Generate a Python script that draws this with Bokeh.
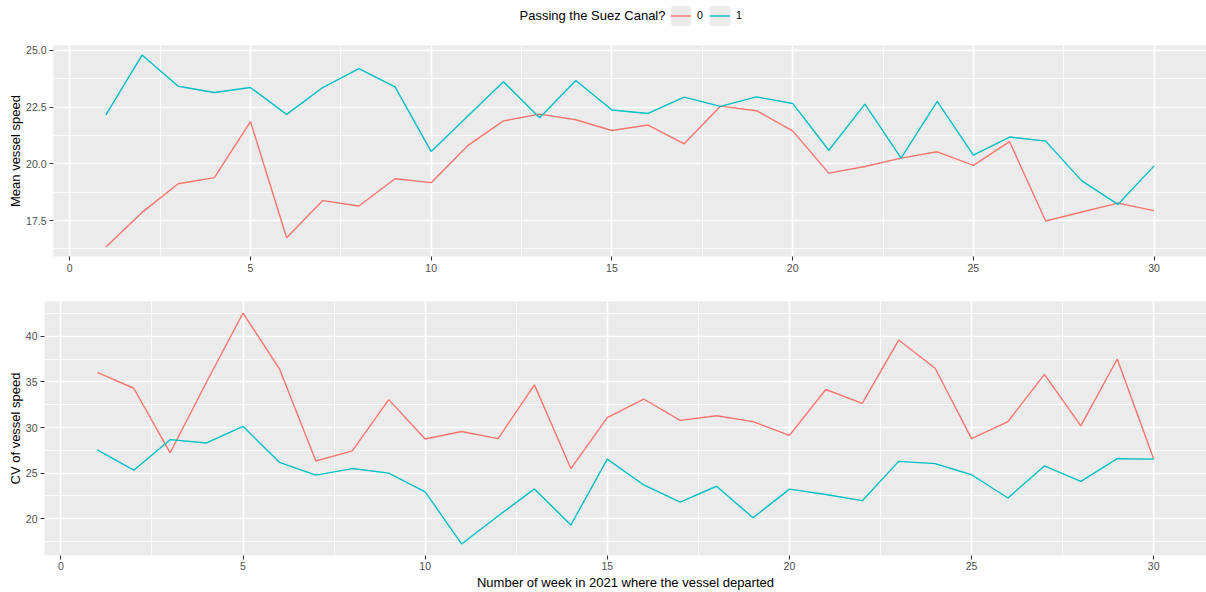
from bokeh.plotting import figure
from bokeh.models import (Range1d, SingleIntervalTicker, PrintfTickFormatter,
                          Legend, LegendItem, Label, ColumnDataSource)
from bokeh.layouts import column
from bokeh.embed import file_html
from bokeh.resources import INLINE

# ---------------- data ----------------
weeks = list(range(1, 31))
groups = ["0", "1"]
mean_speed_0 = [16.34, 17.86, 19.12, 19.39, 21.86, 16.74, 18.38, 18.14, 19.34, 19.17,
                20.79, 21.89, 22.19, 21.94, 21.47, 21.71, 20.88, 22.54, 22.34, 21.45,
                19.59, 19.88, 20.25, 20.53, 19.93, 20.98, 17.48, 17.88, 18.27, 17.94]
mean_speed_1 = [22.16, 24.79, 23.42, 23.14, 23.36, 22.18, 23.36, 24.19, 23.39, 20.54,
                22.08, 23.62, 22.03, 23.67, 22.37, 22.22, 22.94, 22.53, 22.95, 22.66,
                20.60, 22.63, 20.25, 22.75, 20.38, 21.18, 21.00, 19.25, 18.21, 19.91]
cv_speed_0 = [36.04, 34.31, 27.23, 35.00, 42.56, 36.44, 26.33, 27.44, 33.06, 28.74,
              29.57, 28.78, 34.68, 25.50, 31.08, 33.13, 30.79, 31.29, 30.65, 29.14,
              34.17, 32.66, 39.60, 36.51, 28.78, 30.65, 35.83, 30.18, 37.52, 26.54]
cv_speed_1 = [27.55, 25.32, 28.67, 28.31, 30.14, 26.18, 24.78, 25.50, 25.00, 22.95,
              17.23, 20.29, 23.27, 19.31, 26.54, 23.70, 21.83, 23.56, 20.10, 23.24,
              22.66, 21.98, 26.29, 26.04, 24.82, 22.27, 25.79, 24.10, 26.58, 26.54]

legend_title = "Passing the Suez Canal?"
x_title = "Number of week in 2021 where the vessel departed"
y_title_top = "Mean vessel speed"
y_title_bottom = "CV of vessel speed"

# ---------------- styling ----------------
FONT = "Liberation Sans"
COLORS = ["#F8766D", "#00BFC4"]
PANEL_BG = "#EBEBEB"
WIDTH = 1206
NAN = float("nan")

src = ColumnDataSource(dict(week=weeks, m0=mean_speed_0, m1=mean_speed_1,
                            c0=cv_speed_0, c1=cv_speed_1))


def padded(*series):
    vals = [v for s in series for v in s]
    lo, hi = min(vals), max(vals)
    pad = 0.05 * (hi - lo)
    return Range1d(lo - pad, hi + pad)


def style(p, ytick_interval, yfmt=None):
    p.background_fill_color = PANEL_BG
    p.border_fill_color = "white"
    p.outline_line_color = None
    p.xaxis.ticker = SingleIntervalTicker(interval=5, num_minor_ticks=2)
    p.yaxis.ticker = SingleIntervalTicker(interval=ytick_interval, num_minor_ticks=2)
    if yfmt:
        p.yaxis.formatter = PrintfTickFormatter(format=yfmt)
    for ax in (p.xaxis[0], p.yaxis[0]):
        ax.axis_line_color = None
        ax.major_tick_line_color = "#333333"
        ax.major_tick_line_width = 1.1
        ax.major_tick_out = 4
        ax.major_tick_in = 0
        ax.minor_tick_line_color = None
        ax.major_label_text_color = "#4D4D4D"
        ax.major_label_text_font = FONT
        ax.major_label_text_font_size = "10.5px"
        ax.major_label_standoff = 3
        ax.axis_label_text_font = FONT
        ax.axis_label_text_font_size = "13px"
        ax.axis_label_text_font_style = "normal"
        ax.axis_label_text_color = "black"
        ax.axis_label_standoff = 4
    p.yaxis.axis_label_standoff = 0
    for g in (p.xgrid[0], p.ygrid[0]):
        g.grid_line_color = "white"
        g.grid_line_width = 1.6
        g.minor_grid_line_color = "white"
        g.minor_grid_line_width = 0.8


# ---------------- legend strip ----------------
LEG_H = 32
lg = figure(width=WIDTH, height=LEG_H, x_range=Range1d(0, WIDTH), y_range=Range1d(0, LEG_H),
            toolbar_location=None, output_backend="svg", min_border=0,
            x_axis_location=None, y_axis_location=None, frame_align=False)
lg.grid.visible = False
lg.outline_line_color = None
lg.background_fill_color = "white"
items = []
for g, c in zip(groups, COLORS):
    # invisible helper renderers (NaN data) that only provide the legend key glyphs
    bg = lg.quad(left=[NAN], right=[NAN], top=[NAN], bottom=[NAN], fill_color=PANEL_BG,
                 line_color=PANEL_BG, line_width=3)
    ln = lg.line(x=[NAN, NAN], y=[NAN, NAN], line_color=c, line_width=1.4)
    items.append(LegendItem(label=g, renderers=[bg, ln]))
leg = Legend(items=items, orientation="horizontal", location=(670, LEG_H - 25.5),
             glyph_width=21, glyph_height=21, label_height=21, label_width=6,
             label_standoff=6, spacing=6, padding=0, margin=0,
             border_line_color=None, background_fill_alpha=0,
             label_text_font=FONT, label_text_font_size="10.5px",
             label_text_color="black")
lg.add_layout(leg)
lg.add_layout(Label(x=519, y=LEG_H - 15, x_units="screen", y_units="screen",
                    text=legend_title, text_font=FONT, text_font_size="13px",
                    text_baseline="middle", text_color="black"))

x_lo = min(weeks) - 0.05 * (max(weeks) - min(weeks))
x_hi = max(weeks) + 0.05 * (max(weeks) - min(weeks))

# ---------------- top panel ----------------
p1 = figure(width=WIDTH, height=258, toolbar_location=None, output_backend="svg",
            x_range=Range1d(x_lo, x_hi), y_range=padded(mean_speed_0, mean_speed_1),
            min_border_left=53, min_border_right=0, min_border_top=13, min_border_bottom=34,
            frame_align=False)
style(p1, 2.5, "%.1f")
p1.yaxis.axis_label = y_title_top
p1.line("week", "m0", source=src, line_color=COLORS[0], line_width=1.4)
p1.line("week", "m1", source=src, line_color=COLORS[1], line_width=1.4)

# ---------------- bottom panel ----------------
p2 = figure(width=WIDTH, height=302, toolbar_location=None, output_backend="svg",
            x_range=Range1d(x_lo, x_hi), y_range=padded(cv_speed_0, cv_speed_1),
            min_border_left=44, min_border_right=0, min_border_top=11, min_border_bottom=33,
            frame_align=False)
style(p2, 5)
p2.xaxis.axis_label = x_title
p2.xaxis.axis_label_standoff = 2
p2.xaxis.major_label_standoff = 2
p2.yaxis.axis_label = y_title_bottom
p2.line("week", "c0", source=src, line_color=COLORS[0], line_width=1.4)
p2.line("week", "c1", source=src, line_color=COLORS[1], line_width=1.4)

layout = column(lg, p1, p2, spacing=0)
open("out.html", "w").write(file_html(layout, INLINE))
